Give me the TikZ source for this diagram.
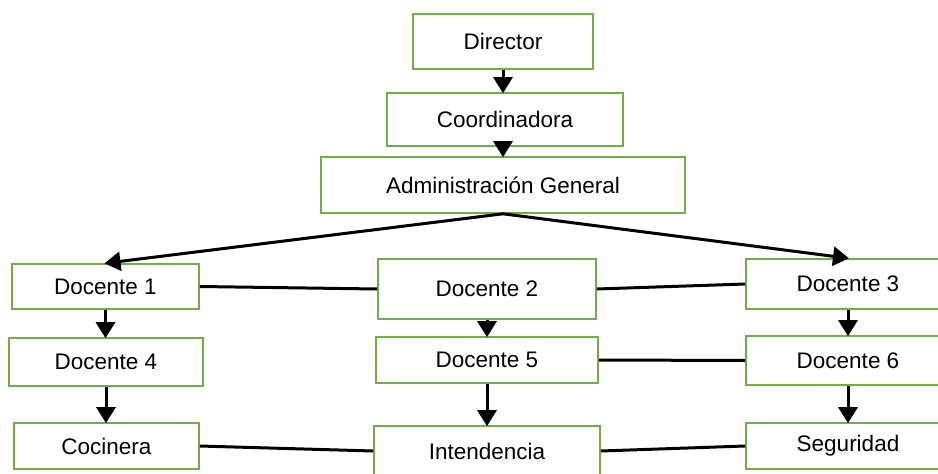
\documentclass[tikz,border=0pt]{standalone}
\usepackage{fontspec}
\setmainfont{Liberation Sans}
\usetikzlibrary{arrows.meta}
\definecolor{boxgreen}{RGB}{112,173,71}
\begin{document}
\begin{tikzpicture}[x=1pt,y=-1pt,
  orgbox/.style={draw=boxgreen, line width=1.6pt, fill=white, inner sep=0pt,
    font=\fontsize{22.5}{26}\selectfont},
  conn/.style={line width=3pt, black},
  arr/.style={conn, -{Triangle[length=16pt,width=19pt]}, shorten >=-1pt}]
\clip (0,0) rectangle (938,474);
\useasboundingbox (0,0) rectangle (938,474);
\fill[white] (0,0) rectangle (938,474);

\node[orgbox, minimum width=180pt, minimum height=55pt] (dir) at (503,41.5) {Director};
\node[orgbox, minimum width=236pt, minimum height=53pt] (coord) at (505,119.5) {Coordinadora};
\node[orgbox, minimum width=364pt, minimum height=56pt] (admin) at (503,185) {Administración\ General};

\node[orgbox, minimum width=187pt, minimum height=45pt] (d1) at (105.5,286.5) {Docente 1};
\node[orgbox, minimum width=218pt, minimum height=60pt] (d2) at (487,289) {Docente 2};
\node[orgbox, minimum width=204pt, minimum height=50pt] (d3) at (848,284) {Docente 3};

\node[orgbox, minimum width=194pt, minimum height=48pt] (d4) at (106,362) {Docente 4};
\node[orgbox, minimum width=222pt, minimum height=46pt] (d5) at (487,360) {Docente 5};
\node[orgbox, minimum width=204pt, minimum height=49pt] (d6) at (848,360.5) {Docente 6};

\node[orgbox, minimum width=185pt, minimum height=46pt] (coc) at (106.5,446) {Cocinera};
\node[orgbox, minimum width=226pt, minimum height=50pt] (int) at (487,451) {Intendencia};
\node[orgbox, minimum width=204pt, minimum height=46pt] (seg) at (848,446) {Seguridad};

% vertical arrows
\draw[arr] (dir.south) -- (dir.south |- coord.north);
\draw[arr] (dir.south |- coord.south) -- (dir.south |- admin.north);
\draw[arr] (admin.south) -- (d1.north);
\draw[arr] (admin.south) -- (d3.north);
\draw[arr] (d1.south) -- (d1.south |- d4.north);
\draw[arr] (d4.south) -- (d4.south |- coc.north);
\draw[arr] (d2.south) -- (d5.north);
\draw[arr] (d5.south) -- (int.north);
\draw[arr] (d3.south) -- (d6.north);
\draw[arr] (d6.south) -- (seg.north);

% horizontal connectors
\draw[conn] (d1.east) -- (d2.west);
\draw[conn] (d2.east) -- (d3.west);
\draw[conn] (d5.east) -- (d6.west);
\draw[conn] (coc.east) -- (int.west);
\draw[conn] (int.east) -- (seg.west);
\end{tikzpicture}
\end{document}
